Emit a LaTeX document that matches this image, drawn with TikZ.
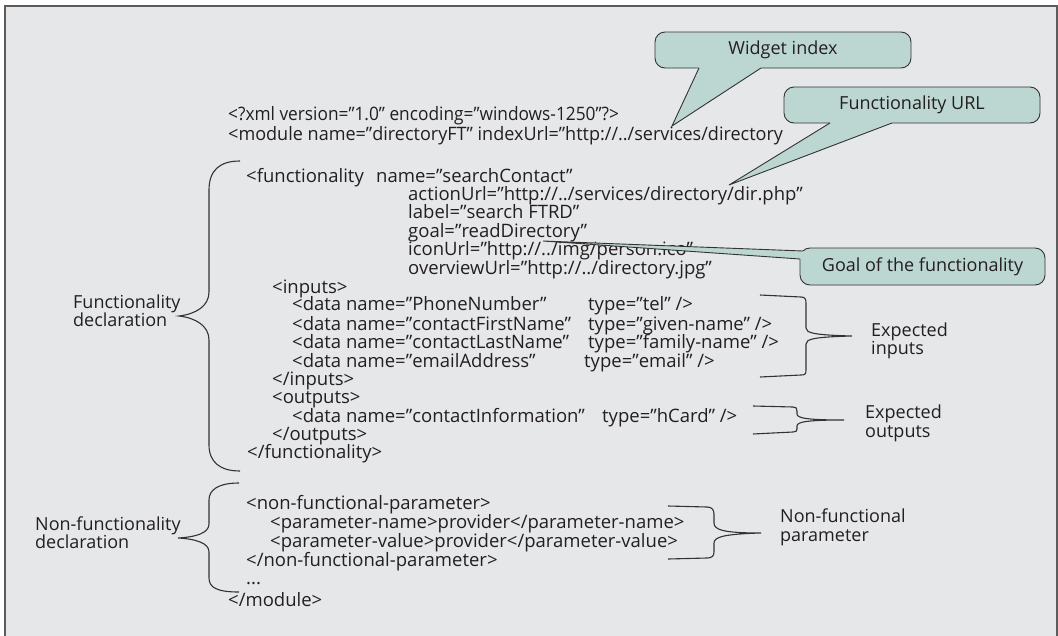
\documentclass[tikz,border=0pt]{standalone}
\usepackage{fontspec}
\setmainfont{Open Sans}
\definecolor{bg}{HTML}{E6E7E8}
\definecolor{ink}{HTML}{231F20}
\definecolor{callfill}{HTML}{BCD6D1}
\definecolor{rule}{HTML}{333333}
% horizontally squeezed text
\newcommand{\squeeze}[2]{\scalebox{#1}[1]{#2}}
\tikzset{
  code/.style={anchor=base west, inner sep=0pt, font=\fontsize{18.5}{22}\selectfont, text=ink},
  note/.style={anchor=base west, inner sep=0pt, font=\fontsize{18}{21}\selectfont, text=ink},
  cbox/.style={draw=rule, fill=callfill, rounded corners=10pt, line width=0.9pt,
    inner sep=0pt, font=\fontsize{18}{21}\selectfont, text=ink},
  brace/.style={draw=rule, line width=1.1pt},
  ptr/.style={draw=rule, line width=0.9pt},
  frame/.style={draw=rule!80, line width=1.2pt, fill=bg},
}
\begin{document}
\begin{tikzpicture}[x=1pt, y=-1pt]
\useasboundingbox (0,0) rectangle (1058,635);
\clip (0,0) rectangle (1058,635);
\fill[white] (0,0) rectangle (1058,635);
\draw[frame] (5,6) rectangle (1057,660);

% ---- XML listing ----
\node[code] (xml)   at (228,120) {\squeeze{0.935}{<?xml version=”1.0” encoding=”windows-1250”?>}};
\node[code] (mod)   at (228,140) {\squeeze{0.975}{<module name=”directoryFT” indexUrl=”http://../services/directory}};
\node[code] (fun)   at (246,182) {<functionality};
\node[code] (funn)  at (376,182) {name=”searchContact”};
\node[code] (act)   at (408,200) {actionUrl=”http://../services/directory/dir.php”};
\node[code] (lab)   at (408,218) {label=”search FTRD”};
\node[code] (goal)  at (408,237) {goal=”readDirectory”};
\node[code] (icon)  at (408,255) {iconUrl=”http://../img/person.ico”};
\node[code] (ovw)   at (408,274) {overviewUrl=”http://../directory.jpg”};
\node[code] (inp)   at (272,293) {<inputs>};
\node[code] (d1)    at (292,310) {<data name=”PhoneNumber”};
\node[code] (t1)    at (588,310) {type=”tel” />};
\node[code] (d2)    at (292,330) {<data name=”contactFirstName”};
\node[code] (t2)    at (588,330) {type=”given-name” />};
\node[code] (d3)    at (292,348) {<data name=”contactLastName”};
\node[code] (t3)    at (588,348) {type=”family-name” />};
\node[code] (d4)    at (292,367) {<data name=”emailAddress”};
\node[code] (t4)    at (584,367) {type=”email” />};
\node[code] (inpc)  at (272,385) {</inputs>};
\node[code] (outp)  at (272,403) {<outputs>};
\node[code] (d5)    at (292,422) {<data name=”contactInformation”};
\node[code] (t5)    at (602,422) {type=”hCard” />};
\node[code] (outpc) at (272,440) {</outputs>};
\node[code] (func)  at (247,458) {</functionality>};
\node[code] (nfp)   at (246,509) {<non-functional-parameter>};
\node[code] (pnam)  at (270,528) {<parameter-name>provider</parameter-name>};
\node[code] (pval)  at (270,547) {<parameter-value>provider</parameter-value>};
\node[code] (nfpc)  at (246,566) {</non-functional-parameter>};
\node[code] (dots)  at (246,584) {...};
\node[code] (modc)  at (228,606) {</module>};

% ---- left braces and labels ----
\node[note] (fd1) at (73,308) {Functionality};
\node[note] (fd2) at (73,326) {declaration};
\draw[brace] (240,161) .. controls (220,161) and (209,170) .. (209,190)
  -- (209,292) .. controls (209,306) and (196,314) .. (179,316)
  .. controls (196,318) and (209,326) .. (209,340)
  -- (209,445) .. controls (209,462) and (220,471) .. (240,471);

\node[note] (nd1) at (35,530) {Non-functionality};
\node[note] (nd2) at (35,548) {declaration};
\draw[brace] (239,483) .. controls (218,483) and (209,490) .. (209,500)
  -- (209,524) .. controls (209,533) and (196,537) .. (178,538)
  .. controls (196,539) and (209,543) .. (209,552)
  -- (209,578) .. controls (209,588) and (218,592) .. (239,592);

% ---- right brackets and labels ----
\draw[brace] (760,295) -- (801,297) .. controls (805,297) and (806,299) .. (806,303)
  -- (806,328) .. controls (806,333) and (814,335) .. (852,336)
  .. controls (814,337) and (806,339) .. (806,344)
  -- (806,370) .. controls (806,374) and (805,375) .. (801,375) -- (760,377);
\node[note] (ei1) at (871,336) {Expected};
\node[note] (ei2) at (871,354) {inputs};

\draw[brace] (753,406) -- (793,407) .. controls (796,407) and (797,408) .. (797,411)
  -- (797,414) .. controls (797,418) and (806,420) .. (844,420)
  .. controls (806,420) and (797,422) .. (797,426)
  -- (797,429) .. controls (797,431) and (796,432) .. (793,432) -- (753,434);
\node[note] (eo1) at (865,418) {Expected};
\node[note] (eo2) at (865,437) {outputs};

\draw[brace] (668,506) -- (707,507) .. controls (712,507) and (714,510) .. (714,514)
  -- (714,523) .. controls (714,530) and (724,533) .. (761,533)
  .. controls (724,534) and (714,537) .. (714,543)
  -- (714,552) .. controls (714,556) and (712,558) .. (707,558) -- (668,559);
\node[note] (np1) at (780,522) {Non-functional};
\node[note] (np2) at (780,541) {parameter};

% ---- callouts ----
\node[cbox, minimum width=256pt, minimum height=36pt] (wbox) at (783,50) {Widget index};
\coordinate (wL) at (699,68);
\coordinate (wR) at (761,68);
\coordinate (wtip) at (672,126);
\fill[callfill] (wL) -- (wtip) -- (wR) -- (761,66) -- (699,66) -- cycle;
\draw[ptr] (wL) -- (wtip) -- (wR);

\node[cbox, minimum width=256pt, minimum height=36pt] (ubox) at (912,105) {Functionality URL};
\coordinate (uL) at (830,123);
\coordinate (uR) at (892,123);
\coordinate (utip) at (729,185);
\fill[callfill] (uL) -- (utip) -- (uR) -- (892,121) -- (830,121) -- cycle;
\draw[ptr] (uL) -- (utip) -- (uR);

\node[cbox, minimum width=245pt, minimum height=37pt] (gbox) at (922.5,266.5) {Goal of the functionality};
\coordinate (gT) at (803,251);
\coordinate (gB) at (800,259);
\coordinate (gtip) at (543,241);
\fill[callfill] (gtip) -- (gT) -- (807,253) -- (807,260) -- (gB) -- cycle;
\draw[ptr] (gT) -- (gtip) -- (gB);
\end{tikzpicture}
\end{document}
